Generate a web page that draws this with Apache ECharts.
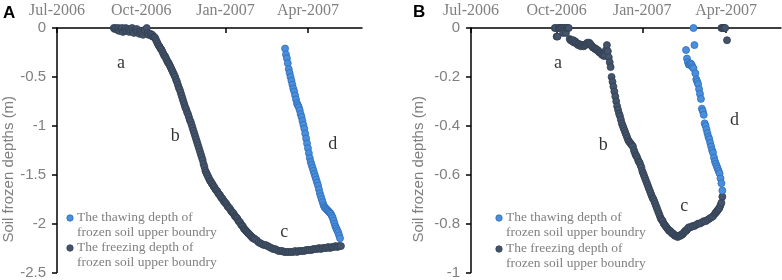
<!DOCTYPE html>
<html>
<head>
<meta charset="utf-8">
<script src="https://cdn.jsdelivr.net/npm/echarts@6/dist/echarts.min.js"></script>
<style>
	html, body {margin: 0; padding: 0; background: #fff;}
	#chart {width: 782px; height: 280px;}
</style>
</head>
<body>
<div id="chart"></div>
<script>
// x = days since 1 Jul 2006, y = depth (m)
var tickDays = [0, 92, 184, 274];
var tickLabels = ['Jul-2006', 'Oct-2006', 'Jan-2007', 'Apr-2007'];

// panel A
var freezeA = [
	[62,0],[63,-0.01],[64,0],[66,-0.02],[67,0],[68,-0.03],[70,-0.01],[71,0],[72,-0.04],[74,-0.02],
	[75,0],[76,-0.03],[78,-0.01],[79,-0.04],[80,-0.02],[82,0],[83,-0.03],[84,-0.05],[86,-0.02],[87,-0.01],
	[88,-0.04],[90,-0.06],[91,-0.03],[92,-0.05],[94,-0.07],[95,-0.04],[96,-0.02],[98,0],[99,-0.05],[100,-0.07],
	[102,-0.06],[103,-0.08],[104,-0.07],[105,-0.09],[106,-0.09],[107,-0.1],[108,-0.12],[109,-0.14],[110,-0.16],
	[111,-0.18],[112,-0.19],[113,-0.21],[114,-0.22],[115,-0.24],[116,-0.26],[117,-0.28],[118,-0.29],[119,-0.31],
	[120,-0.33],[121,-0.35],[122,-0.36],[123,-0.38],[124,-0.40],[125,-0.42],[126,-0.44],[127,-0.46],[128,-0.48],
	[129,-0.50],[130,-0.53],[131,-0.55],[132,-0.58],[133,-0.61],[134,-0.63],[135,-0.66],[136,-0.69],[137,-0.72],
	[138,-0.75],[139,-0.78],[140,-0.81],[141,-0.83],[142,-0.86],[143,-0.88],[144,-0.91],[145,-0.94],[146,-0.96],
	[147,-0.99],[148,-1.02],[149,-1.05],[150,-1.08],[151,-1.11],[152,-1.14],[153,-1.17],[154,-1.20],[155,-1.23],
	[156,-1.26],[157,-1.29],[158,-1.32],[159,-1.35],[160,-1.39],[161,-1.42],[162,-1.46],[163,-1.48],[164,-1.50],
	[165,-1.52],[166,-1.54],[167,-1.56],[168,-1.57],[169,-1.59],[170,-1.60],[171,-1.62],[172,-1.63],[173,-1.65],
	[174,-1.66],[175,-1.67],[176,-1.69],[177,-1.70],[178,-1.71],[179,-1.73],[180,-1.74],[181,-1.75],[182,-1.77],
	[183,-1.78],[184,-1.79],[185,-1.80],[186,-1.82],[187,-1.83],[188,-1.84],[189,-1.85],[190,-1.87],[191,-1.88],
	[192,-1.89],[193,-1.90],[194,-1.92],[195,-1.93],[196,-1.94],[197,-1.95],[198,-1.97],[199,-1.98],[200,-1.99],
	[201,-2.01],[202,-2.02],[203,-2.03],[204,-2.05],[205,-2.06],[206,-2.07],[207,-2.08],[208,-2.09],[209,-2.10],
	[210,-2.11],[211,-2.12],[212,-2.13],[213,-2.14],[214,-2.15],[215,-2.15],[216,-2.16],[218,-2.17],[220,-2.19],
	[222,-2.20],[224,-2.21],[226,-2.22],[228,-2.22],[230,-2.23],[232,-2.24],[234,-2.25],[236,-2.26],[238,-2.26],
	[240,-2.27],[242,-2.28],[244,-2.28],[246,-2.28],[248,-2.29],[250,-2.29],[252,-2.29],[254,-2.29],[256,-2.29],
	[258,-2.29],[260,-2.28],[262,-2.29],[264,-2.28],[266,-2.28],[268,-2.28],[270,-2.28],[272,-2.27],[274,-2.27],
	[276,-2.27],[278,-2.27],[280,-2.26],[282,-2.26],[284,-2.26],[286,-2.25],[288,-2.26],[290,-2.25],[292,-2.25],
	[294,-2.25],[296,-2.24],[298,-2.25],[300,-2.24],[302,-2.24],[304,-2.23],[306,-2.24],[308,-2.23],[310,-2.23]
];
var thawA = [
	[249,-0.21],[250,-0.27],[251,-0.31],[252,-0.36],[253,-0.42],[254,-0.46],[255,-0.50],[256,-0.54],[257,-0.58],
	[258,-0.62],[259,-0.65],[260,-0.69],[261,-0.73],[262,-0.77],[263,-0.79],[264,-0.81],[265,-0.84],[266,-0.88],
	[267,-0.91],[268,-0.95],[269,-0.99],[270,-1.03],[271,-1.08],[272,-1.13],[273,-1.18],[274,-1.23],[275,-1.28],
	[276,-1.33],[277,-1.37],[278,-1.40],[279,-1.43],[280,-1.46],[281,-1.49],[282,-1.52],[283,-1.55],[284,-1.58],
	[285,-1.61],[286,-1.65],[287,-1.69],[288,-1.72],[289,-1.75],[290,-1.78],[291,-1.81],[292,-1.83],[293,-1.84],
	[294,-1.85],[295,-1.86],[296,-1.87],[297,-1.88],[298,-1.89],[299,-1.90],[300,-1.92],[301,-1.94],[302,-1.97],
	[303,-2.00],[304,-2.03],[305,-2.05],[306,-2.07],[307,-2.09],[308,-2.12],[309,-2.15]
];
var lettersA = [['a',70,-0.357],['b',129,-1.11],['c',248,-2.09],['d',301,-1.19]];

// panel B
var freezeB = [
	[90,0],[91,0],[92,-0.035],[93,-0.035],[94,0],[95,0],[96,0],[97,0],[98,0],[99,-0.02],[100,0],[101,0],
	[102,-0.02],[103,0],[104,0],[105,0],[106,-0.045],[107,-0.05],[108,-0.05],[109,-0.055],[110,-0.05],[111,-0.06],
	[112,-0.055],[113,-0.06],[114,-0.065],[115,-0.07],[116,-0.065],[117,-0.07],[118,-0.075],[119,-0.07],[120,-0.07],
	[121,-0.075],[122,-0.07],[123,-0.07],[124,-0.065],[125,-0.06],[126,-0.065],[127,-0.06],[128,-0.065],[129,-0.07],
	[130,-0.075],[131,-0.08],[132,-0.08],[133,-0.085],[134,-0.085],[135,-0.09],[136,-0.09],[137,-0.095],[138,-0.10],
	[139,-0.10],[140,-0.105],[141,-0.11],[142,-0.11],[143,-0.115],[144,-0.11],[145,-0.09],[146,-0.07],[147,-0.095],
	[148,-0.12],[149,-0.14],[150,-0.16],[151,-0.20],[152,-0.22],[153,-0.24],[154,-0.26],[155,-0.28],[156,-0.30],
	[157,-0.32],[158,-0.335],[159,-0.35],[160,-0.36],[161,-0.375],[162,-0.39],[163,-0.40],[164,-0.41],[165,-0.42],
	[166,-0.43],[167,-0.44],[168,-0.45],[169,-0.46],[170,-0.465],[171,-0.47],[172,-0.475],[173,-0.48],[174,-0.485],
	[175,-0.50],[176,-0.51],[177,-0.52],[178,-0.525],[179,-0.535],[180,-0.545],[181,-0.55],[182,-0.56],[183,-0.57],
	[184,-0.585],[185,-0.595],[186,-0.605],[187,-0.615],[188,-0.625],[189,-0.635],[190,-0.645],[191,-0.655],
	[192,-0.665],[193,-0.675],[194,-0.685],[195,-0.695],[196,-0.70],[197,-0.71],[198,-0.72],[199,-0.73],[200,-0.74],
	[201,-0.75],[202,-0.76],[203,-0.77],[204,-0.78],[205,-0.785],[206,-0.79],[207,-0.80],[208,-0.805],[209,-0.81],
	[210,-0.815],[211,-0.82],[212,-0.825],[213,-0.83],[214,-0.83],[215,-0.835],[216,-0.84],[217,-0.84],[218,-0.845],
	[219,-0.85],[220,-0.85],[221,-0.85],[222,-0.855],[223,-0.85],[224,-0.85],[225,-0.85],[226,-0.845],[227,-0.845],
	[228,-0.84],[229,-0.835],[230,-0.83],[231,-0.83],[232,-0.825],[233,-0.82],[234,-0.815],[236,-0.815],[238,-0.81],
	[240,-0.81],[242,-0.805],[244,-0.80],[246,-0.80],[248,-0.795],[250,-0.79],[252,-0.79],[254,-0.785],[256,-0.78],
	[258,-0.775],[260,-0.77],[262,-0.76],[263,-0.755],[264,-0.75],[265,-0.745],[266,-0.74],[267,-0.735],[268,-0.725],
	[269,-0.715],[270,-0.69],[269,0],[270,0],[271,0],[272,0],[273,0],[275,-0.05]
];
var thawB = [
	[231,-0.09],[232,-0.125],[233,-0.14],[234,-0.15],[235,-0.15],[236,-0.145],[237,-0.15],[238,-0.16],[239,0],
	[239,-0.165],[240,-0.07],[241,-0.185],[242,-0.21],[243,-0.22],[244,-0.23],[245,-0.25],[246,-0.27],[247,-0.29],
	[248,-0.33],[249,-0.34],[250,-0.355],[251,-0.39],[252,-0.40],[253,-0.415],[254,-0.43],[255,-0.445],[256,-0.455],
	[257,-0.47],[258,-0.485],[259,-0.50],[260,-0.51],[261,-0.53],[262,-0.545],[263,-0.555],[264,-0.565],[265,-0.575],
	[266,-0.585],[267,-0.595],[268,-0.615],[269,-0.635],[270,-0.665]
];
var lettersB = [['a',93.5,-0.143],['b',142,-0.478],['c',229,-0.73],['d',283,-0.376]];

var thawName = 'The thawing depth of\nfrozen soil upper boundry';
var freezeName = 'The freezing depth of\nfrozen soil upper boundry';

var thawColor = '#4a8ede', thawBorder = '#2f6db5';
var freezeColor = '#44546a', freezeBorder = '#323f52';
var grayText = '#808080';

function xAxisConf(gridIndex){
	return {
		gridIndex: gridIndex,
		type: 'value',
		position: 'top',
		min: 0,
		max: 333,
		splitLine: {show: false},
		axisLine: {onZero: false, lineStyle: {color: '#000', width: 1.5}},
		axisTick: {inside: true, length: 5, customValues: tickDays, lineStyle: {color: '#000', width: 1.5}},
		axisLabel: {
			customValues: tickDays,
			margin: 9,
			color: grayText,
			fontFamily: 'Liberation Serif',
			fontSize: 16,
			formatter: function(v){
				var i = tickDays.indexOf(v);
				return i >= 0 ? tickLabels[i] : '';
			}
		}
	};
}

function yAxisConf(gridIndex, min, interval){
	return {
		gridIndex: gridIndex,
		type: 'value',
		min: min,
		max: 0,
		interval: interval,
		splitLine: {show: false},
		name: 'Soil frozen depths (m)',
		nameLocation: 'middle',
		nameGap: gridIndex == 0 ? 41 : 45,
		nameTextStyle: {color: grayText, fontFamily: 'Liberation Sans', fontSize: 15, padding: [0, 38, 0, 0]},
		axisLine: {show: true, onZero: false, lineStyle: {color: '#000', width: 1.5}},
		axisTick: {show: true, length: 5, lineStyle: {color: '#000', width: 1.5}},
		axisLabel: {color: grayText, fontFamily: 'Liberation Sans', fontSize: 15, margin: 11}
	};
}

function dots(name, data, idx, fill, border){
	return {
		name: name,
		type: 'scatter',
		xAxisIndex: idx,
		yAxisIndex: idx,
		data: data,
		symbol: 'circle',
		symbolSize: 7,
		itemStyle: {color: fill, borderColor: border, borderWidth: 0.8, opacity: 1},
		emphasis: {disabled: true}
	};
}

function letters(list, idx){
	return {
		type: 'scatter',
		xAxisIndex: idx,
		yAxisIndex: idx,
		symbolSize: 0,
		silent: true,
		data: list.map(function(l){ return {name: l[0], value: [l[1], l[2]]}; }),
		label: {show: true, position: 'inside', formatter: '{b}', color: '#000', fontFamily: 'Liberation Serif', fontSize: 18}
	};
}

// hand-made legend: marker sits beside the first text line
function legendBlock(x, y, name, fill, border){
	return [
		{type: 'circle', shape: {cx: x, cy: y, r: 3.2}, style: {fill: fill, stroke: border, lineWidth: 0.8}},
		{type: 'text', x: x + 7, y: y - 7.5, style: {text: name, fill: grayText, font: '13.5px "Liberation Serif"', lineHeight: 14.5}}
	];
}

var chart = echarts.init(document.getElementById('chart'), null, {renderer: 'canvas'});
var option = {
	animation: false,
	backgroundColor: '#fff',
	grid: [
		{left: 52, top: 28, width: 310, height: 245},
		{left: 471, top: 28, width: 310, height: 245}
	],
	xAxis: [xAxisConf(0), xAxisConf(1)],
	yAxis: [yAxisConf(0, -2.5, 0.5), yAxisConf(1, -1, 0.2)],
	series: [
		dots(freezeName, freezeA, 0, freezeColor, freezeBorder),
		dots(thawName, thawA, 0, thawColor, thawBorder),
		dots(freezeName, freezeB, 1, freezeColor, freezeBorder),
		dots(thawName, thawB, 1, thawColor, thawBorder),
		letters(lettersA, 0),
		letters(lettersB, 1)
	],
	graphic: [].concat(
		[{type: 'text', x: 3, y: 5, style: {text: 'A', fill: '#000', font: 'bold 17px "Liberation Sans"'}}],
		[{type: 'text', x: 413, y: 4, style: {text: 'B', fill: '#000', font: 'bold 17px "Liberation Sans"'}}],
		legendBlock(70, 218, thawName, thawColor, thawBorder),
		legendBlock(70, 248, freezeName, freezeColor, freezeBorder),
		legendBlock(499, 218, thawName, thawColor, thawBorder),
		legendBlock(499, 249, freezeName, freezeColor, freezeBorder)
	)
};
chart.setOption(option);
</script>
</body>
</html>
